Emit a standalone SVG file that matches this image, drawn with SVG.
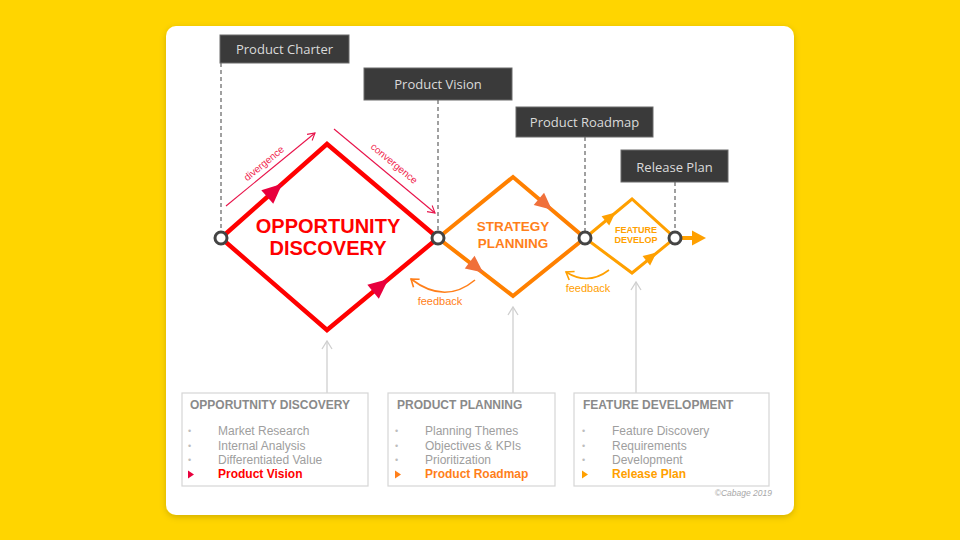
<svg xmlns="http://www.w3.org/2000/svg" width="960" height="540" viewBox="0 0 960 540">
<defs>
<filter id="sh" x="-5%" y="-5%" width="110%" height="115%"><feDropShadow dx="0" dy="2" stdDeviation="3" flood-color="#000" flood-opacity="0.18"/></filter>
<marker id="thinRed" markerWidth="10" markerHeight="10" refX="8" refY="5" orient="auto" markerUnits="userSpaceOnUse"><path d="M1,1 L8,5 L1,9" fill="none" stroke="#E8134A" stroke-width="1.1"/></marker>
<marker id="grayUp" markerWidth="12" markerHeight="12" refX="9" refY="6" orient="auto" markerUnits="userSpaceOnUse"><path d="M1,1 L9,6 L1,11" fill="none" stroke="#CFCFCF" stroke-width="1.3"/></marker>
<marker id="fbA" markerWidth="12" markerHeight="12" refX="9" refY="6" orient="auto" markerUnits="userSpaceOnUse"><path d="M2,1 L9,6 L2,11" fill="none" stroke="#FF7F1A" stroke-width="1.6"/></marker>
<marker id="fbB" markerWidth="12" markerHeight="12" refX="9" refY="6" orient="auto" markerUnits="userSpaceOnUse"><path d="M2,1 L9,6 L2,11" fill="none" stroke="#FFA000" stroke-width="1.6"/></marker>
<path id="triL" d="M11,0 L-9,-9 L-9,9 Z"/>
<path id="triM" d="M9,0 L-8,-8 L-8,8 Z"/>
<path id="triS" d="M7,0 L-6,-6 L-6,6 Z"/>
</defs>
<style>
.lbl rect{fill:#3A3A3A;stroke:#6A6A6A;stroke-width:1}
.lbl text{font-family:"Open Sans","Liberation Sans",sans-serif;font-size:13px;fill:#DADADA;text-anchor:middle}
.dash{stroke:#6E6E6E;stroke-width:1.3;stroke-dasharray:4 3;fill:none}
.node{fill:#fff;stroke:#444;stroke-width:3}
.box rect{fill:#fff;stroke:#D6D6D6;stroke-width:1.2}
.box .t{font-family:"Liberation Sans",Arial,sans-serif;font-weight:bold;font-size:12px;fill:#8A8A8A}
.box .i{font-family:"Liberation Sans",Arial,sans-serif;font-size:12px;fill:#9E9E9E}
.box .b{font-family:"Liberation Sans",Arial,sans-serif;font-size:9px;fill:#BDBDBD}
.box .k{font-family:"Liberation Sans",Arial,sans-serif;font-size:12px;font-weight:bold}
.sans{font-family:"Liberation Sans",Arial,sans-serif}
</style>
<rect width="960" height="540" fill="#FFD500"/>
<rect x="166" y="26" width="628" height="489" rx="10" fill="#fff" filter="url(#sh)"/>

<g id="connectors">
<line class="dash" x1="221" y1="63" x2="221" y2="232"/>
<line class="dash" x1="438" y1="100" x2="438" y2="232"/>
<line class="dash" x1="585" y1="137" x2="585" y2="232"/>
<line class="dash" x1="675" y1="182" x2="675" y2="232" stroke="#555"/>
<line x1="226" y1="206" x2="315" y2="133" stroke="#E8134A" stroke-width="1.1" marker-end="url(#thinRed)"/>
<line x1="334" y1="129" x2="435" y2="213" stroke="#E8134A" stroke-width="1.1" marker-end="url(#thinRed)"/>
<text class="sans" font-size="10" fill="#F0284F" text-anchor="middle" transform="translate(266,166) rotate(-39.5)">divergence</text>
<text class="sans" font-size="10" fill="#F0284F" text-anchor="middle" transform="translate(392,166) rotate(39.7)">convergence</text>
<line x1="327" y1="393" x2="327" y2="341" stroke="#CFCFCF" stroke-width="1.3" marker-end="url(#grayUp)"/>
<line x1="513" y1="393" x2="513" y2="307" stroke="#CFCFCF" stroke-width="1.3" marker-end="url(#grayUp)"/>
<line x1="636" y1="393" x2="636" y2="282" stroke="#CFCFCF" stroke-width="1.3" marker-end="url(#grayUp)"/>
<path d="M475,280 Q445,305 411,279" fill="none" stroke="#FF7F1A" stroke-width="1.6" marker-end="url(#fbA)"/>
<text class="sans" x="440" y="305" font-size="11" fill="#FF7F1A" text-anchor="middle">feedback</text>
<path d="M609,270 Q588,286 566,272" fill="none" stroke="#FFA000" stroke-width="1.6" marker-end="url(#fbB)"/>
<text class="sans" x="588" y="292" font-size="11" fill="#FFA000" text-anchor="middle">feedback</text>
<line x1="680" y1="238" x2="694" y2="238" stroke="#FFA000" stroke-width="4"/>
<path d="M706,238 L692,230.5 L692,245.5 Z" fill="#FFA000"/>
</g>

<g id="opportunity-discovery">
<path d="M221,238 L327,144 L438,238 L327,330 Z" fill="none" stroke="#FF0000" stroke-width="4.5" stroke-linejoin="miter"/>
<use href="#triL" fill="#E8003D" transform="translate(274,191) rotate(-41.6)"/>
<use href="#triL" fill="#E8003D" transform="translate(380,286) rotate(-39.6)"/>
<text class="sans" x="328" y="233" font-size="20" font-weight="bold" fill="#FF0000" text-anchor="middle">OPPORTUNITY</text>
<text class="sans" x="328" y="255" font-size="20" font-weight="bold" fill="#FF0000" text-anchor="middle">DISCOVERY</text>
</g>

<g id="strategy-planning">
<path d="M438,238 L513,177 L585,238 L513,296 Z" fill="none" stroke="#FF8000" stroke-width="4" stroke-linejoin="miter"/>
<use href="#triM" fill="#F0703A" transform="translate(545,204) rotate(40.3)"/>
<use href="#triM" fill="#F0703A" transform="translate(476,267) rotate(37.7)"/>
<text class="sans" x="513" y="231" font-size="13.5" font-weight="bold" fill="#FF7F1A" text-anchor="middle">STRATEGY</text>
<text class="sans" x="513" y="248" font-size="13.5" font-weight="bold" fill="#FF7F1A" text-anchor="middle">PLANNING</text>
</g>

<g id="feature-develop">
<path d="M585,238 L632,199 L675,238 L632,273 Z" fill="none" stroke="#FFA000" stroke-width="3" stroke-linejoin="miter"/>
<use href="#triS" fill="#FFA000" transform="translate(610,217) rotate(-39.7)"/>
<use href="#triS" fill="#FFA000" transform="translate(651,257) rotate(-39)"/>
<text class="sans" x="636" y="233" font-size="9" font-weight="bold" fill="#FFA000" text-anchor="middle">FEATURE</text>
<text class="sans" x="636" y="243" font-size="9" font-weight="bold" fill="#FFA000" text-anchor="middle">DEVELOP</text>
</g>

<g id="milestones">
<circle class="node" cx="221" cy="238" r="6"/>
<circle class="node" cx="438" cy="238" r="6"/>
<circle class="node" cx="585" cy="238" r="6"/>
<circle class="node" cx="675" cy="238" r="6"/>
</g>

<g id="product-charter" class="lbl"><rect x="220" y="35" width="129" height="28"/><text x="284.5" y="54">Product Charter</text></g>
<g id="product-vision" class="lbl"><rect x="364" y="68" width="148" height="32"/><text x="438" y="89">Product Vision</text></g>
<g id="product-roadmap" class="lbl"><rect x="516" y="107" width="137" height="30"/><text x="584.5" y="127">Product Roadmap</text></g>
<g id="release-plan" class="lbl"><rect x="621" y="150" width="107" height="32"/><text x="674.5" y="172">Release Plan</text></g>

<g id="box-opportunity" class="box">
<rect x="182" y="393" width="186" height="93"/>
<text class="t" x="190" y="409">OPPORUTNITY DISCOVERY</text>
<text class="b" x="188" y="434">•</text><text class="i" x="218" y="435">Market Research</text>
<text class="b" x="188" y="449">•</text><text class="i" x="218" y="450">Internal Analysis</text>
<text class="b" x="188" y="463">•</text><text class="i" x="218" y="464">Differentiated Value</text>
<path d="M188,470.5 L194,474.5 L188,478.5 Z" fill="#E8003D"/><text class="k" x="218" y="478" fill="#FF0000">Product Vision</text>
</g>

<g id="box-planning" class="box">
<rect x="388" y="393" width="167" height="93"/>
<text class="t" x="397" y="409">PRODUCT PLANNING</text>
<text class="b" x="395" y="434">•</text><text class="i" x="425" y="435">Planning Themes</text>
<text class="b" x="395" y="449">•</text><text class="i" x="425" y="450">Objectives &amp; KPIs</text>
<text class="b" x="395" y="463">•</text><text class="i" x="425" y="464">Prioritization</text>
<path d="M395,470.5 L401,474.5 L395,478.5 Z" fill="#FF7F1A"/><text class="k" x="425" y="478" fill="#FF7F1A">Product Roadmap</text>
</g>

<g id="box-feature" class="box">
<rect x="574" y="393" width="195" height="93"/>
<text class="t" x="583" y="409">FEATURE DEVELOPMENT</text>
<text class="b" x="582" y="434">•</text><text class="i" x="612" y="435">Feature Discovery</text>
<text class="b" x="582" y="449">•</text><text class="i" x="612" y="450">Requirements</text>
<text class="b" x="582" y="463">•</text><text class="i" x="612" y="464">Development</text>
<path d="M582,470.5 L588,474.5 L582,478.5 Z" fill="#FFA000"/><text class="k" x="612" y="478" fill="#FFA000">Release Plan</text>
</g>

<text class="sans" x="772" y="496" font-size="8.5" font-style="italic" fill="#A8A8A8" text-anchor="end">©Cabage 2019</text>
</svg>
